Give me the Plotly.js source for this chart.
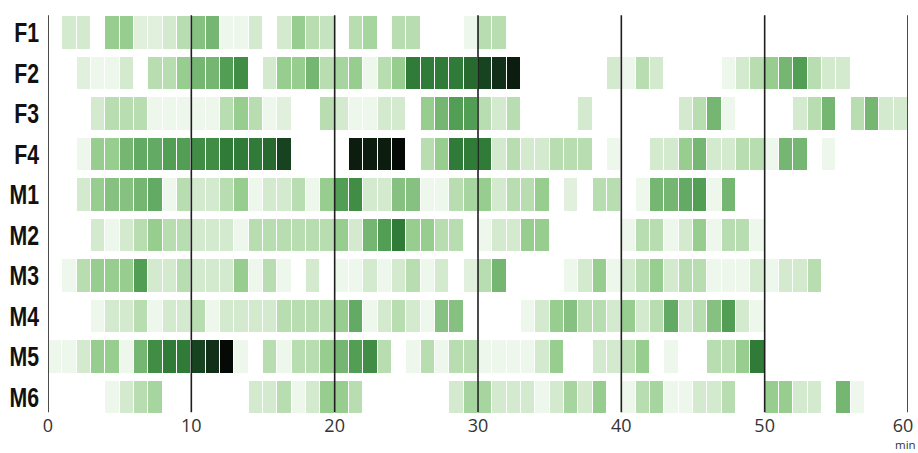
<!DOCTYPE html>
<html>
<head>
<meta charset="utf-8">
<script src="https://cdn.plot.ly/plotly-3.0.1.min.js"></script>
<style>html,body{margin:0;padding:0;background:#fff;}#chart{width:918px;height:453px;}</style>
</head>
<body>
<div id="chart"></div>
<script>
const rows = ["F1","F2","F3","F4","M1","M2","M3","M4","M5","M6"];
const n = null;
// intensity per minute (0..59), null = no data
const F1 = [n,2,2,n,4,4,1.5,1.5,2,3,4.5,5,1,1,2,n,2,4,3,2.5,n,3,3.5,n,3,3,n,n,n,1,3,3,n,n,n,n,n,n,n,n,n,n,n,n,n,n,n,n,n,n,n,n,n,n,n,n,n,n,n,n];
const F2 = [n,n,1.5,1,1,2,n,3,3,4,5,5,6,6.5,n,2,4,4,5,3,3.5,4,1,3,4,7,7,7,7,7.5,8.5,9,9.5,n,n,n,n,n,n,2,1,3,2,n,n,n,n,1,2,3,4,5,6,3,2,2,n,n,n,n];
const F3 = [n,n,n,2,3,3,3,1,1,1,1,1,3,4,3,1,1.5,n,n,3,2,1,1,2,2,n,4,5,6,6,3,2,3,n,n,n,n,2,n,n,n,n,n,n,2,3,5,1,n,n,n,n,2,3,5,n,3,5,2,2];
const F4 = [n,n,1,4,4,5,5.5,5.5,6,6,6.5,6.5,7,7,7,7.5,8.5,n,n,n,n,9.5,9.5,9.5,10,n,3,4,7,7,7,2,3,2,2,3,3,3,n,1,n,n,2,2,4,5,2,2,3,3,1,5,5,n,1,n,n,n,n,n];
const M1 = [n,n,2,4,4.5,4.5,5,5.5,1,3,2,2,3,4,1,2,2,3,1,4,6,6.5,2,2,4.5,4.5,1,1,3,3.5,4,2,3,3,4,n,1.5,n,3,3,n,1,5,5,5.5,6,1,5,n,n,n,n,n,n,n,n,n,n,n,n];
const M2 = [n,n,n,2,1,2,3,4,3,3,2,2,2,1,3,3,3,3,3,3,4,2,5,6,7,4,4,3,3,n,1,2,2,4,4,n,n,n,n,n,1,3,3,1,2,4,1,3,3,1,n,n,n,n,n,n,n,n,n,n];
const M3 = [n,1,3,4,4,4,6,2,2,3,2,2,2,4,1,3,1,n,2,n,1,1,2,1,2,3,1,2,n,1.5,3,5,n,n,n,n,1,2,4,1,2,3,4,2,3,3,1,1,1,2,1,2,2,3,n,n,n,n,n,n];
const M4 = [n,n,n,1,2,2,3,1,2,2,3,1,2,2,2,2,3,3,3,3,4,5.5,1,2,3,2,1,4.5,4.5,n,n,n,n,1,2,4,4.5,3,3,2,4,2,3,5.5,2,3,4.5,6,2,1,n,n,n,n,n,n,n,n,n,n];
const M5 = [1,1,2,4,4,1,5,6.5,7,7,8.5,9,10,1,n,3,1,3,3,4,5,6,6.5,3,n,1,3,1,3,3,1,1,1,1,2,4,n,n,2,2,3,4,n,1,n,n,3,3,4,7,n,n,n,n,n,n,n,n,n,n];
const M6 = [n,n,n,n,1,2,3,3.5,n,n,n,n,n,n,2,2,3,1,2,4,4,3,n,n,n,n,n,n,2,3.5,3.5,2,2,2,1,2,3.5,2,4,n,1,3,3.5,1,1,2,2,3,n,n,4,4,2,2,n,5,1,n,n,n];
const xTicks = [0,10,20,30,40,50,60];
const xTickText = ["0","10","20","30","40","50","60"];
const xUnit = "min";

const z = [F1,F2,F3,F4,M1,M2,M3,M4,M5,M6];

const colorscale = [
  [0.000,'#eef7ec'],
  [0.111,'#d3eace'],
  [0.222,'#b7ddb0'],
  [0.333,'#98cd90'],
  [0.444,'#74b672'],
  [0.556,'#529e55'],
  [0.667,'#2f7b37'],
  [0.778,'#1e5726'],
  [0.889,'#122f19'],
  [1.000,'#050a06']
];

const trace = {
  type: 'heatmap',
  z: z,
  y: rows,
  x0: 0.5,
  dx: 1,
  zmin: 1,
  zmax: 10,
  colorscale: colorscale,
  showscale: false,
  xgap: 1,
  ygap: 8,
  hoverinfo: 'skip'
};

const shapes = xTicks.map(v => ({
  type: 'line', xref: 'x', yref: 'paper',
  x0: v, x1: v, y0: 0.012, y1: 0.992,
  line: {color: '#1e1e1e', width: 1.6},
  layer: 'above'
}));

const layout = {
  width: 918, height: 453,
  margin: {l: 48, r: 10, t: 12, b: 36},
  paper_bgcolor: '#fff',
  plot_bgcolor: '#fff',
  showlegend: false,
  xaxis: {
    range: [0, 60],
    tickvals: xTicks,
    ticktext: xTickText,
    showgrid: false,
    zeroline: false,
    showline: false,
    ticks: '',
    ticklabeloverflow: 'allow',
    ticklabelstandoff: -4,
    tickfont: {family: 'Open Sans, sans-serif', size: 18, color: '#333'},
    fixedrange: true
  },
  yaxis: {
    autorange: 'reversed',
    showgrid: false,
    zeroline: false,
    showline: false,
    ticks: '',
    ticklabelstandoff: 8,
    tickfont: {family: 'Liberation Sans, Arial, sans-serif', size: 28, color: '#111', weight: 'bold'},
    fixedrange: true
  },
  shapes: shapes,
  annotations: [{
    text: xUnit, xref: 'x', yref: 'paper', x: 60, y: -0.0889, xshift: 9,
    xanchor: 'right', yanchor: 'bottom', showarrow: false, borderpad: 0,
    font: {family: 'Open Sans, sans-serif', size: 11.5, color: '#333'}
  }]
};

Plotly.newPlot('chart', [trace], layout, {displayModeBar: false, staticPlot: true}).then(gd => {
  // condense the row labels horizontally (narrow bold face as in the reference)
  gd.querySelectorAll('.yaxislayer-above .ytick text').forEach(t => {
    const x = parseFloat(t.getAttribute('x')) || 0;
    const y = parseFloat(t.getAttribute('y')) || 0;
    const tr = t.getAttribute('transform') || '';
    t.setAttribute('transform', tr + ` translate(${x},${y}) scale(0.76,1) translate(${-x},${-y})`);
  });
  // last x label sits just inside the right edge, as in the reference
  const xt = gd.querySelectorAll('.xaxislayer-above .xtick text');
  if (xt.length) {
    const last = xt[xt.length - 1];
    const tr = last.getAttribute('transform') || '';
    last.setAttribute('transform', tr + ' translate(-5,0)');
  }
});
</script>
</body>
</html>
